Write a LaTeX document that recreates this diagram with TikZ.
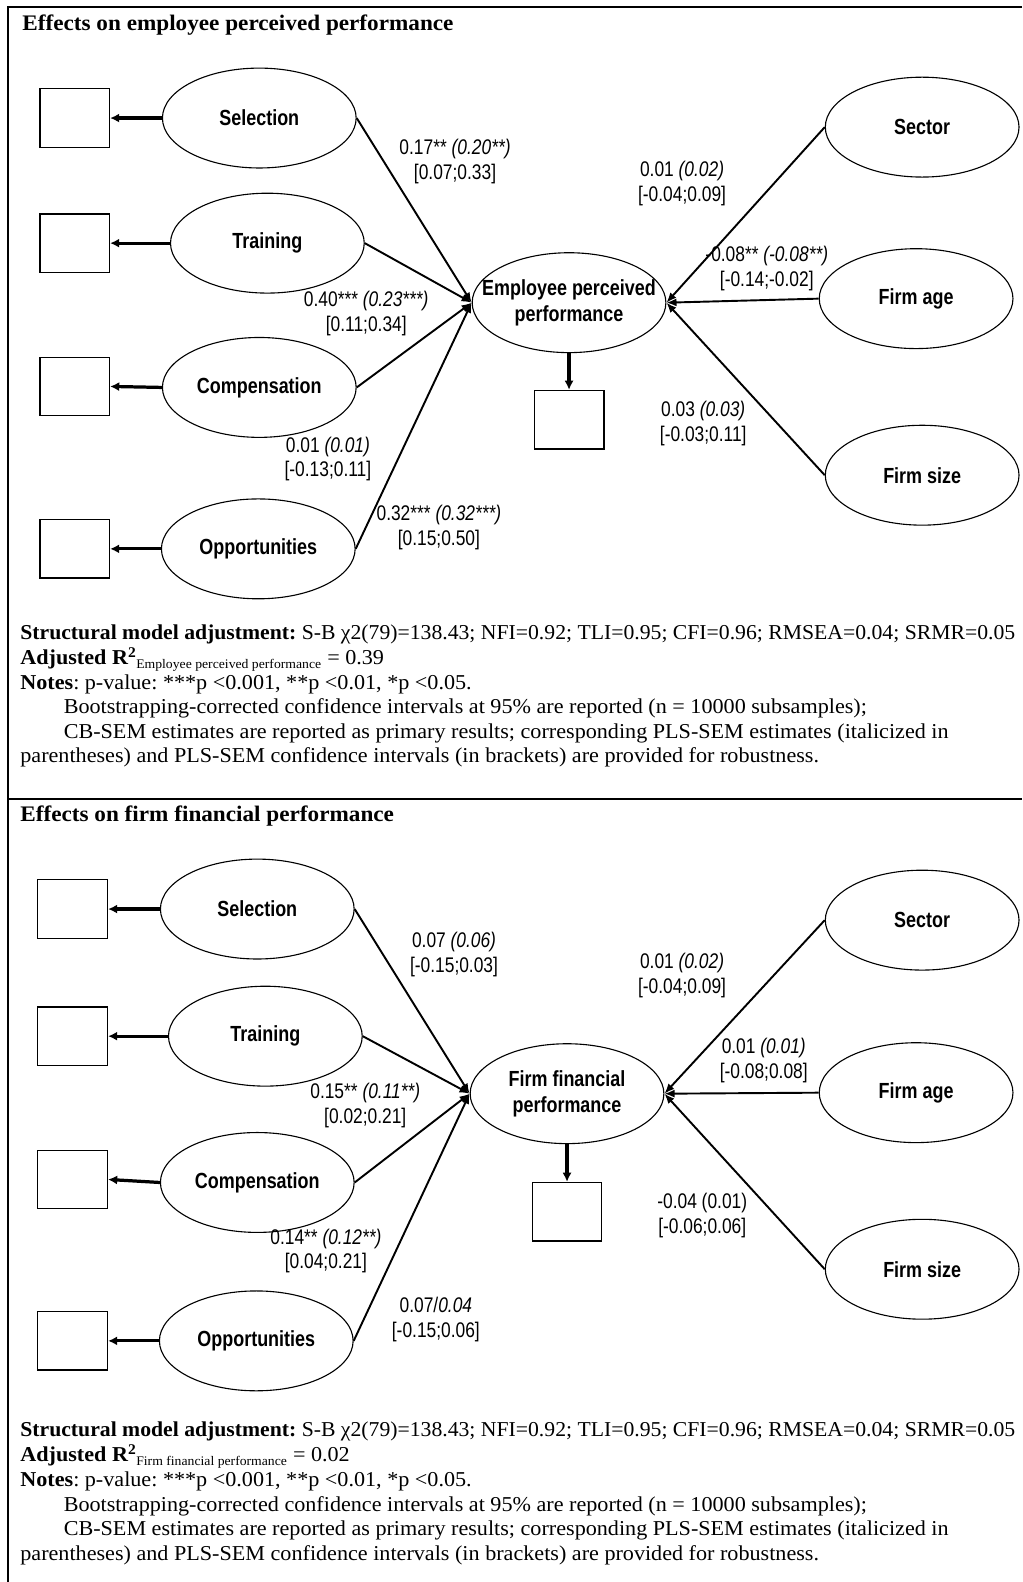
\documentclass[tikz,border=0pt]{standalone}
\usepackage{fontspec}
\setmainfont{Liberation Serif}[FakeStretch=1.045]
\newfontfamily\fitfont[FakeStretch=1.024]{Liberation Serif}
\newfontfamily\narrowsf[FakeStretch=0.82]{Liberation Sans}
\usetikzlibrary{shapes.geometric,arrows.meta,positioning}
\frenchspacing

\tikzset{
  latent/.style={ellipse, draw, line width=1.1pt, minimum width=192pt, minimum height=99pt,
    inner sep=0pt, font=\narrowsf\bfseries\fontsize{21.7}{26}\selectfont},
  ctrtext/.style={inner sep=0pt, align=center, font=\narrowsf\bfseries\fontsize{21.7}{26}\selectfont},
  indic/.style={draw, line width=1.3pt, minimum width=69pt, minimum height=58pt, inner sep=0pt},
  effect/.style={line width=1.9pt, -{Latex[length=10pt,width=8pt]}},
  loading/.style={line width=3.2pt, -{Latex[length=9pt,width=9pt]}},
  coef/.style={inner sep=0pt, align=center, font=\narrowsf\fontsize{21}{24.5}\selectfont},
  ptitle/.style={anchor=base west, inner sep=0pt, font=\bfseries\fontsize{22}{26}\selectfont},
  note/.style={anchor=base west, inner sep=0pt, font=\fontsize{21}{25}\selectfont},
}
\newcommand{\subtext}[1]{\textsubscript{\fontsize{13}{13}\selectfont #1}}

\begin{document}
\begin{tikzpicture}[x=1pt, y=-1pt]
    \useasboundingbox (0,0) rectangle (1013,1568);
    % Frame
    \draw[line width=2.5pt] (1013,7) -- (8,7) -- (8,1568);
    \draw[line width=2pt] (8,792) -- (1013,792);

    % Effects on employee perceived performance
    \node[ptitle] (titleE) at (22,30) {Effects on employee perceived performance};
    \node[indic] (selBoxE) at (74,117) {};
    \node[latent] (selE) at (257,117) {Selection};
    \node[indic] (trnBoxE) at (74,241) {};
    \node[latent] (trnE) at (265,241) {Training};
    \node[indic] (cmpBoxE) at (74,383) {};
    \node[latent] (cmpE) at (257,384) {Compensation};
    \node[indic] (oppBoxE) at (74,544) {};
    \node[latent] (oppE) at (256,544) {Opportunities};
    \node[latent] (ctrE) at (564,300) {};
    \node[ctrtext] (ctrTextE) at (ctrE) {Employee perceived\\performance};
    \node[indic] (ctrBoxE) at (564,416) {};
    \node[latent] (secE) at (914,126) {Sector};
    \node[latent] (ageE) at (908,296) {Firm age};
    \node[latent] (sizE) at (914,471) {Firm size};

    \draw[loading] (selE.west) -- (selBoxE.east);
    \draw[loading] (trnE.west) -- (trnBoxE.east);
    \draw[loading] (cmpE.west) -- (cmpBoxE.east);
    \draw[loading] (oppE.west) -- (oppBoxE.east);
    \draw[loading] (ctrE.south) -- (ctrBoxE.north);
    \draw[effect] (selE.east) -- (ctrE.west);
    \draw[effect] (trnE.east) -- (ctrE.west);
    \draw[effect] (cmpE.east) -- (ctrE.west);
    \draw[effect] (oppE.east) -- (ctrE.west);
    \draw[effect] (secE.west) -- (ctrE.east);
    \draw[effect] (ageE.west) -- (ctrE.east);
    \draw[effect] (sizE.west) -- (ctrE.east);

    \node[coef] (cSelE) at (451,160) {0.17** \textit{(0.20**)}\\{}[0.07;0.33]};
    \node[coef] (cTrnE) at (363,311) {0.40*** \textit{(0.23***)}\\{}[0.11;0.34]};
    \node[coef] (cCmpE) at (325,455) {0.01 \textit{(0.01)}\\{}[-0.13;0.11]};
    \node[coef] (cOppE) at (435,523) {0.32*** \textit{(0.32***)}\\{}[0.15;0.50]};
    \node[coef] (cSecE) at (676,182) {0.01 \textit{(0.02)}\\{}[-0.04;0.09]};
    \node[coef] (cAgeE) at (760,266) {-0.08** \textit{(-0.08**)}\\{}[-0.14;-0.02]};
    \node[coef] (cSizE) at (697,420) {0.03 \textit{(0.03)}\\{}[-0.03;0.11]};

    \node[note] (fitE) at (20,634) {\fitfont\textbf{Structural model adjustment:} S-B χ2(79)=138.43; NFI=0.92; TLI=0.95; CFI=0.96; RMSEA=0.04; SRMR=0.05};
    \node[note] (rsqE) at (20,659) {\textbf{Adjusted R\textsuperscript{2}}\subtext{Employee perceived performance} = 0.39};
    \node[note] (pvalE) at (20,683) {\textbf{Notes}: p-value: ***p <0.001, **p <0.01, *p <0.05.};
    \node[note] (bootE) at (63,707) {Bootstrapping-corrected confidence intervals at 95\% are reported (n = 10000 subsamples);};
    \node[note] (cbE) at (63,732) {CB-SEM estimates are reported as primary results; corresponding PLS-SEM estimates (italicized in};
    \node[note] (plsE) at (20,756) {parentheses) and PLS-SEM confidence intervals (in brackets) are provided for robustness.};

    % Effects on firm financial performance
    \node[ptitle] (titleF) at (20,814) {Effects on firm financial performance};
    \begin{scope}[shift={(-2,784)}]
        \node[indic] (selBoxF) at (74,117) {};
        \node[latent] (selF) at (257,117) {Selection};
        \node[indic] (trnBoxF) at (74,243) {};
        \node[latent] (trnF) at (265,243) {Training};
        \node[indic] (cmpBoxF) at (74,385) {};
        \node[latent] (cmpF) at (257,388) {Compensation};
        \node[indic] (oppBoxF) at (74,545) {};
        \node[latent] (oppF) at (256,545) {Opportunities};
        \node[latent] (ctrF) at (564,300) {};
        \node[ctrtext] (ctrTextF) at (ctrF) {Firm financial\\performance};
        \node[indic] (ctrBoxF) at (564,417) {};
        \node[latent] (secF) at (916,128) {Sector};
        \node[latent] (ageF) at (910,299) {Firm age};
        \node[latent] (sizF) at (916,474) {Firm size};

        \draw[loading] (selF.west) -- (selBoxF.east);
        \draw[loading] (trnF.west) -- (trnBoxF.east);
        \draw[loading] (cmpF.west) -- (cmpBoxF.east);
        \draw[loading] (oppF.west) -- (oppBoxF.east);
        \draw[loading] (ctrF.south) -- (ctrBoxF.north);
        \draw[effect] (selF.east) -- (ctrF.west);
        \draw[effect] (trnF.east) -- (ctrF.west);
        \draw[effect] (cmpF.east) -- (ctrF.west);
        \draw[effect] (oppF.east) -- (ctrF.west);
        \draw[effect] (secF.west) -- (ctrF.east);
        \draw[effect] (ageF.west) -- (ctrF.east);
        \draw[effect] (sizF.west) -- (ctrF.east);

        \node[coef] (cSelF) at (452,162) {0.07 \textit{(0.06)}\\{}[-0.15;0.03]};
        \node[coef] (cTrnF) at (364,312) {0.15** \textit{(0.11**)}\\{}[0.02;0.21]};
        \node[coef] (cCmpF) at (325,456) {0.14** \textit{(0.12**)}\\{}[0.04;0.21]};
        \node[coef] (cOppF) at (434,524) {0.07/\textit{0.04}\\{}[-0.15;0.06]};
        \node[coef] (cSecF) at (678,183) {0.01 \textit{(0.02)}\\{}[-0.04;0.09]};
        \node[coef] (cAgeF) at (759,267) {0.01 \textit{(0.01)}\\{}[-0.08;0.08]};
        \node[coef] (cSizF) at (698,421) {-0.04 (0.01)\\{}[-0.06;0.06]};
    \end{scope}

    \node[note] (fitF) at (20,1424) {\fitfont\textbf{Structural model adjustment:} S-B χ2(79)=138.43; NFI=0.92; TLI=0.95; CFI=0.96; RMSEA=0.04; SRMR=0.05};
    \node[note] (rsqF) at (20,1449) {\textbf{Adjusted R\textsuperscript{2}}\subtext{Firm financial performance} = 0.02};
    \node[note] (pvalF) at (20,1473) {\textbf{Notes}: p-value: ***p <0.001, **p <0.01, *p <0.05.};
    \node[note] (bootF) at (63,1498) {Bootstrapping-corrected confidence intervals at 95\% are reported (n = 10000 subsamples);};
    \node[note] (cbF) at (63,1522) {CB-SEM estimates are reported as primary results; corresponding PLS-SEM estimates (italicized in};
    \node[note] (plsF) at (20,1547) {parentheses) and PLS-SEM confidence intervals (in brackets) are provided for robustness.};
\end{tikzpicture}
\end{document}
